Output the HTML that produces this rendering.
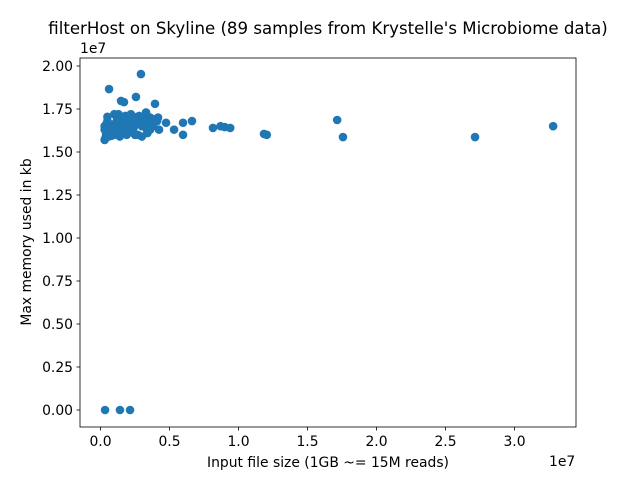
<!DOCTYPE html>
<html><head><meta charset="utf-8"><style>
body{margin:0;background:#fff;}
svg{display:block;font-family:"DejaVu Sans","Liberation Sans",sans-serif;}
</style></head><body>
<svg id="c" width="640" height="480"></svg>
<script>
// values in units of 1e6 (x: input file size, y: max memory kb)
const xVals=[2.93,0.62,1.49,1.70,2.57,3.95,8.15,8.7,9.0,9.4,11.85,12.05,17.15,17.57,27.14,32.8,6.63,5.98,5.98,5.33,4.75,4.24,4.17,0.33,1.41,2.14,
0.3,0.4,0.3,0.5,0.7,0.9,1.0,1.1,1.2,1.3,1.5,1.6,1.8,1.9,2.0,2.2,2.4,2.5,2.7,2.9,3.1,3.3,3.4,3.5,3.6,3.8,3.9,0.35,0.6,0.8,1.0,1.3,1.5,1.7,2.0,2.3,2.6,2.8,3.0,3.2,3.4,3.7,4.0,0.4,0.6,1.1,1.4,1.9,2.1,2.5,3.0,3.3,0.5,0.8,1.2,1.6,2.2,2.7,3.6,4.1,0.3,1.0,2.4];
const yVals=[19.53,18.66,17.97,17.9,18.2,17.8,16.4,16.5,16.45,16.4,16.05,16.0,16.86,15.87,15.87,16.5,16.8,16.7,16.0,16.3,16.7,16.3,17.0,0,0,0,
15.7,16.0,16.5,17.05,16.2,16.6,17.2,16.4,16.9,17.2,16.3,16.8,17.1,16.0,16.6,17.2,16.4,16.0,16.8,17.0,16.6,17.3,16.2,16.7,17.0,16.5,16.9,15.8,15.9,16.3,16.0,16.7,16.1,16.5,16.9,16.2,16.7,17.1,16.5,16.9,16.1,16.6,16.8,16.6,16.1,16.1,15.9,16.4,16.2,16.9,15.9,16.4,16.8,15.95,16.5,16.3,16.6,16.0,16.3,16.8,16.3,16.5,17.05,16.0];
const xTicks=[0,0.5,1.0,1.5,2.0,2.5,3.0];
const yTicks=[0,0.25,0.5,0.75,1.0,1.25,1.5,1.75,2.0];
const svg=document.getElementById('c');const NS='http://www.w3.org/2000/svg';
function X(v){return 100.5+v*13.8;} // v in 1e6
function Y(v){return 410-v*17.2;}
function mk(t,a,p){const e=document.createElementNS(NS,t);for(const k in a)e.setAttribute(k,a[k]);(p||svg).appendChild(e);return e;}
const L=80,R=576,T=58,B=427;
for(let i=0;i<xVals.length;i++){
 const c=mk('circle',{cx:X(xVals[i]),cy:Y(yVals[i]),r:4.3,fill:'#1f77b4'});
 
 
}
const fr=mk('rect',{x:L,y:T,width:R-L,height:B-T,fill:'none',stroke:'#000','stroke-width':0.8});


xTicks.forEach(t=>{const x=X(t*10);mk('line',{x1:x,x2:x,y1:B,y2:B+3.5,stroke:'#000','stroke-width':0.8});
 const tx=mk('text',{x:x,y:B+19,'font-size':13.9,'text-anchor':'middle'});tx.textContent=t.toFixed(1);
 
 });
yTicks.forEach(t=>{const y=Y(t*10);mk('line',{x1:L,x2:L-3.5,y1:y,y2:y,stroke:'#000','stroke-width':0.8});
 const tx=mk('text',{x:L-7,y:y+5,'font-size':13.9,'text-anchor':'end'});tx.textContent=t.toFixed(2);
 
 });
</script>
<svg style="position:absolute;left:0;top:0" width="640" height="480">
<text x="328" y="34" font-size="16.6" text-anchor="middle" font-family="DejaVu Sans,Liberation Sans,sans-serif">filterHost on Skyline (89 samples from Krystelle's Microbiome data)</text>
<text x="80" y="53" font-size="13.9" font-family="DejaVu Sans,Liberation Sans,sans-serif">1e7</text>
<text x="549" y="466" font-size="13.9" font-family="DejaVu Sans,Liberation Sans,sans-serif">1e7</text>
<text x="328" y="467" font-size="13.9" text-anchor="middle" font-family="DejaVu Sans,Liberation Sans,sans-serif">Input file size (1GB ~= 15M reads)</text>
<text transform="translate(31,242) rotate(-90)" font-size="13.9" text-anchor="middle" font-family="DejaVu Sans,Liberation Sans,sans-serif">Max memory used in kb</text>
</svg>
</body></html>
